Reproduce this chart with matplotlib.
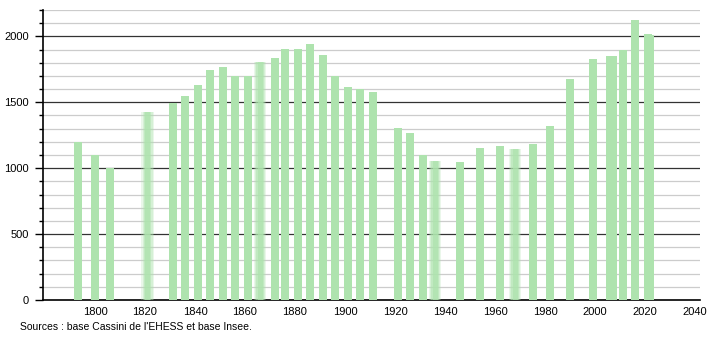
import matplotlib
matplotlib.use("Agg")
import matplotlib.pyplot as plt
from matplotlib.ticker import MultipleLocator

plt.rcParams["font.family"] = ["Liberation Sans", "DejaVu Sans"]

# census years and population
YEARS = [1793, 1800, 1806, 1821, 1831, 1836, 1841, 1846, 1851, 1856,
         1861, 1866, 1872, 1876, 1881, 1886, 1891, 1896, 1901, 1906,
         1911, 1921, 1926, 1931, 1936, 1946, 1954, 1962, 1968, 1975,
         1982, 1990, 1999, 2006, 2007, 2011, 2016, 2021, 2022]
POP = [1200, 1101, 1000, 1426, 1497, 1546, 1634, 1744, 1766, 1703,
       1700, 1802, 1835, 1901, 1901, 1942, 1860, 1703, 1614, 1599,
       1576, 1302, 1264, 1099, 1058, 1048, 1150, 1165, 1142, 1180,
       1317, 1675, 1832, 1850, 1852, 1898, 2122, 2020, 2010]
# bars that look soft / blurred in the original render
BLURRED = [1821, 1866, 1936, 1968]

SOURCE = "Sources : base Cassini de l'EHESS et base Insee."

BAR_COLOR = "#aee3ae"
BAR_W = 3.2

fig = plt.figure(figsize=(7.1, 3.4), dpi=100)
ax = fig.add_axes([43 / 710, 40 / 340, 657 / 710, 290 / 340])

for yr, val in zip(YEARS, POP):
    if yr in BLURRED:
        # fake the soft edges with a few stacked translucent bars
        for w, a in [(5.0, 0.25), (4.0, 0.35), (3.0, 0.5), (2.0, 0.7)]:
            ax.bar(yr, val, width=w, color=BAR_COLOR, alpha=a, linewidth=0, zorder=3)
    else:
        ax.bar(yr, val, width=BAR_W, color=BAR_COLOR, linewidth=0, zorder=3)

ax.set_xlim(1779.2, 2042)
ax.set_ylim(0, 2200)

# grid: light every 100, dark every 500
for v in range(100, 2201, 100):
    if v % 500 == 0:
        ax.axhline(v, color="#333333", linewidth=0.9, zorder=2)
    else:
        ax.axhline(v, color="#cccccc", linewidth=0.9, zorder=1)

ax.yaxis.set_major_locator(MultipleLocator(500))
ax.yaxis.set_minor_locator(MultipleLocator(100))
ax.xaxis.set_major_locator(MultipleLocator(20))
ax.set_xticks(range(1800, 2041, 20))
ax.tick_params(axis="y", which="major", length=6, width=1, labelsize=8, pad=4)
ax.tick_params(axis="y", which="minor", length=3, width=1)
ax.tick_params(axis="x", length=0, labelsize=8, pad=5)

for s in ["top", "right"]:
    ax.spines[s].set_visible(False)
ax.spines["left"].set_linewidth(1.2)
ax.spines["bottom"].set_linewidth(1.2)

fig.text(20 / 710, 1 - 327 / 340, SOURCE, fontsize=7.5, va="center", ha="left")

fig.savefig("out.png", dpi=100)
